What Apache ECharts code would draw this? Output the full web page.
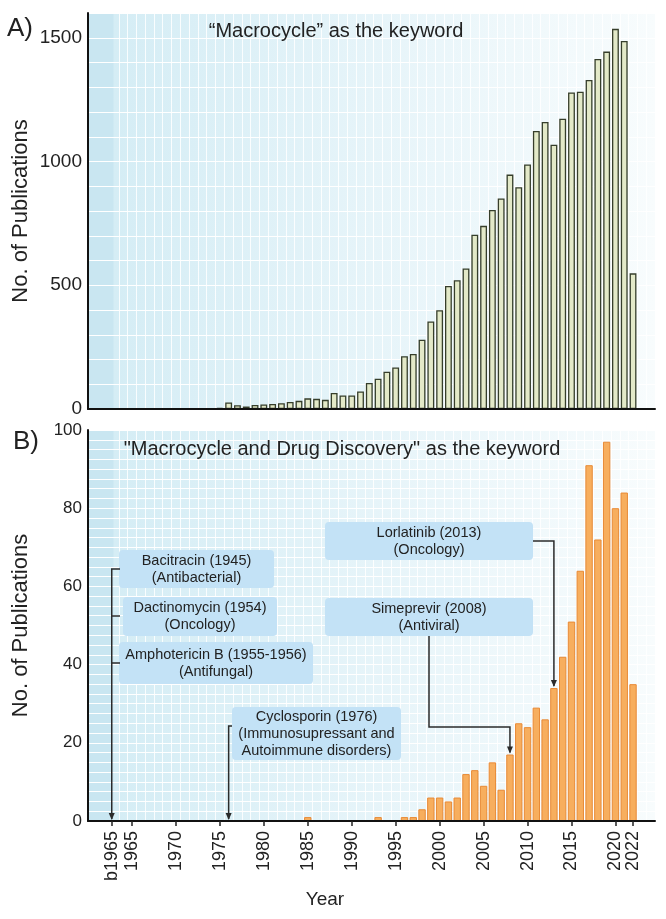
<!DOCTYPE html>
<html>
<head>
<meta charset="utf-8">
<script src="https://cdn.jsdelivr.net/npm/echarts@6/dist/echarts.min.js"></script>
<style>
html,body{margin:0;padding:0;background:#ffffff;}
#main{width:666px;height:919px;}
</style>
</head>
<body>
<div id="main"></div>
<script>
// ---------------- data ----------------
const categories = [
  'b1965',
  '1965','1966','1967','1968','1969','1970','1971','1972','1973','1974',
  '1975','1976','1977','1978','1979','1980','1981','1982','1983','1984',
  '1985','1986','1987','1988','1989','1990','1991','1992','1993','1994',
  '1995','1996','1997','1998','1999','2000','2001','2002','2003','2004',
  '2005','2006','2007','2008','2009','2010','2011','2012','2013','2014',
  '2015','2016','2017','2018','2019','2020','2021','2022'
];
// "Macrocycle" as the keyword
const publicationsMacrocycle = [
  3,
  3, 0, 0, 0, 3, 0, 0, 2, 3, 0,
  5, 26, 15, 10, 16, 18, 20, 23, 28, 33,
  43, 41, 37, 65, 55, 55, 71, 105, 122, 151,
  168, 213, 222, 280, 354, 399, 497, 520, 568, 704,
  740, 804, 851, 947, 896, 988, 1123, 1160, 1068, 1173,
  1279, 1282, 1329, 1414, 1444, 1536, 1487, 548
];
// "Macrocycle and Drug Discovery" as the keyword
const publicationsDrugDiscovery = [
  0,
  0, 0, 0, 0, 0, 0, 0, 0, 0, 0,
  0, 0, 0, 0, 0, 0, 0, 0, 0, 0,
  1, 0, 0, 0, 0, 0, 0, 0, 1, 0,
  0, 1, 1, 3, 6, 6, 5, 6, 12, 13,
  9, 15, 8, 17, 25, 24, 29, 26, 34, 42,
  51, 64, 91, 72, 97, 80, 84, 35
];
const xTickLabels = ['b1965','1965','1970','1975','1980','1985','1990','1995','2000','2005','2010','2015','2020','2022'];
const yTicksA = [0, 500, 1000, 1500];
const yTicksB = [0, 20, 40, 60, 80, 100];

const annotations = [
  { lines: ['Bacitracin (1945)', '(Antibacterial)'], target: 'b1965' },
  { lines: ['Dactinomycin (1954)', '(Oncology)'], target: 'b1965' },
  { lines: ['Amphotericin B (1955-1956)', '(Antifungal)'], target: 'b1965' },
  { lines: ['Cyclosporin (1976)', '(Immunosupressant and', 'Autoimmune disorders)'], target: '1976' },
  { lines: ['Lorlatinib (2013)', '(Oncology)'], target: '2013' },
  { lines: ['Simeprevir (2008)', '(Antiviral)'], target: '2008' }
];

// ---------------- layout / style ----------------
const FONT = "'Liberation Sans', Arial, Helvetica, sans-serif";
const B1965_X = 1962.7;          // where the "before 1965" group sits on the year axis
const X_MIN = 1960, X_MAX = 2024.5;
const toX = c => (c === 'b1965' ? B1965_X : Number(c));

const gridLineYears = [];
for (let y = 1963.5; y < X_MAX; y += 1) gridLineYears.push(y);

const bgGrad = () => ({
  type: 'linear', x: 0, y: 0, x2: 1, y2: 0,
  colorStops: [
    { offset: 0, color: '#c9e6f1' },
    { offset: 0.044, color: '#c9e6f1' },
    { offset: 0.046, color: '#d5edf5' },
    { offset: 0.5, color: '#e6f4f9' },
    { offset: 1, color: '#f8fcfd' }
  ]
});

function buildData(values) {
  return categories.map((c, i) => {
    const item = { value: [toX(c), values[i]] };
    if (values[i] === 0) item.itemStyle = { borderWidth: 0, opacity: 0 };
    return item;
  });
}

const tickLabelByPos = {};
xTickLabels.forEach(l => { tickLabelByPos[toX(l).toFixed(2)] = l; });
const xTickPositions = xTickLabels.map(toX);
// the last label sits very close to its neighbour, so it gets its own (line-less) axis
const xTickMain = xTickPositions.slice(0, -1);
const xTickLast = xTickPositions.slice(-1);

const xLabelStyle = { show: true, rotate: 90, margin: 10, fontSize: 18, color: '#222', fontFamily: FONT,
  hideOverlap: false, showMinLabel: true, showMaxLabel: true,
  formatter: v => tickLabelByPos[Number(v).toFixed(2)] || '' };
const xTickStyle = { show: true, length: 5, inside: false, lineStyle: { color: '#222', width: 1.5 } };

function mainXAxis(gridIndex, ticks, showLine) {
  return {
    type: 'value', gridIndex, min: X_MIN, max: X_MAX, position: 'bottom', z: 5,
    axisLine: { show: showLine, onZero: false, lineStyle: { color: '#111', width: 2 } },
    axisTick: ticks ? Object.assign({ customValues: ticks }, xTickStyle) : { show: false },
    axisLabel: ticks ? Object.assign({ customValues: ticks }, xLabelStyle) : { show: false },
    splitLine: { show: false }
  };
}
function lineXAxis(gridIndex) {
  return {
    type: 'value', gridIndex, min: X_MIN, max: X_MAX, position: 'top',
    axisLine: { show: false },
    axisTick: { show: false, customValues: gridLineYears },
    axisLabel: { show: false },
    splitLine: { show: true, lineStyle: { color: 'rgba(255,255,255,0.85)', width: 1 } }
  };
}
function yAxis(gridIndex, max, interval, labels, fontSize) {
  return {
    type: 'value', gridIndex, min: 0, max, interval,
    name: 'No. of Publications', nameLocation: 'middle', nameGap: 56, nameMoveOverlap: false,
    nameTextStyle: { fontSize: 22, color: '#222', fontFamily: FONT },
    axisLine: { show: true, lineStyle: { color: '#111', width: 2 } },
    axisTick: { show: false },
    axisLabel: { customValues: labels, fontSize, color: '#222', fontFamily: FONT, margin: 6,
                 formatter: v => String(Math.round(v)) },
    splitLine: { show: true, lineStyle: { color: '#ffffff', width: 1.2 } }
  };
}

const chart = echarts.init(document.getElementById('main'), null, { renderer: 'canvas' });

chart.setOption({
  animation: false,
  backgroundColor: '#ffffff',
  grid: [
    { left: 88, right: 11, top: 13, height: 396, show: true, borderWidth: 0, backgroundColor: bgGrad(), containLabel: false, outerBoundsMode: 'none' },
    { left: 88, right: 11, top: 430, height: 391, show: true, borderWidth: 0, backgroundColor: bgGrad(), containLabel: false, outerBoundsMode: 'none' }
  ],
  xAxis: [
    mainXAxis(0, null, true), lineXAxis(0),
    mainXAxis(1, xTickMain, true), lineXAxis(1),
    mainXAxis(1, xTickLast, false)
  ],
  yAxis: [ yAxis(0, 1600, 100, yTicksA, 19), yAxis(1, 100, 2.5, yTicksB, 17) ],
  series: [
    {
      type: 'bar', name: 'Macrocycle', xAxisIndex: 0, yAxisIndex: 0,
      barWidth: '78%',
      itemStyle: { color: '#e3e9c8', borderColor: '#363e2b', borderWidth: 1.3 },
      data: buildData(publicationsMacrocycle)
    },
    {
      type: 'bar', name: 'Macrocycle and Drug Discovery', xAxisIndex: 2, yAxisIndex: 1,
      barWidth: '84%',
      itemStyle: { color: '#f7ae5e', borderColor: '#e88a36', borderWidth: 1 },
      data: buildData(publicationsDrugDiscovery)
    }
  ]
});

// ---------------- annotations (positioned from the chart's own scales) ----------------
const px = (cat, val) => chart.convertToPixel({ seriesIndex: 1 }, [toX(cat), val]);
const valB = cat => publicationsDrugDiscovery[categories.indexOf(cat)];

const BOX = [
  { x: 119, y: 550, w: 155, h: 38 },
  { x: 123, y: 597, w: 154, h: 39 },
  { x: 119, y: 642, w: 194, h: 42 },
  { x: 232, y: 707, w: 169, h: 53 },
  { x: 325, y: 522, w: 208, h: 38 },
  { x: 325, y: 598, w: 208, h: 38 }
];
const LINE = { stroke: '#2b2b2b', lineWidth: 1.5 };
const g = [];

function arrowHead(tip) {
  return { type: 'polygon', z: 20, shape: { points: [[tip[0] - 3, tip[1] - 7], [tip[0] + 3, tip[1] - 7], [tip[0], tip[1]]] }, style: { fill: '#2b2b2b' } };
}

annotations.forEach((a, i) => {
  const b = BOX[i];
  g.push({ type: 'rect', z: 10, shape: { x: b.x, y: b.y, width: b.w, height: b.h, r: 4 }, style: { fill: '#c3e2f6' } });
  g.push({ type: 'text', z: 11, x: b.x + b.w / 2, y: b.y + b.h / 2,
    style: { text: a.lines.join('\n'), fill: '#222', font: `14.5px ${FONT}`, lineHeight: 17, align: 'center', verticalAlign: 'middle' } });
});

// before-1965 bracket
const t0 = px('b1965', 0);
const stubYs = [569, 616, 663];
g.push({ type: 'polyline', z: 20, shape: { points: [[t0[0], stubYs[0]], [t0[0], t0[1] - 2]] }, style: LINE });
stubYs.forEach(y => g.push({ type: 'polyline', z: 20, shape: { points: [[t0[0] - 0.75, y], [120, y]] }, style: LINE }));
g.push(arrowHead([t0[0], t0[1] - 1]));

// Cyclosporin (1976)
const t1 = px('1976', 0);
g.push({ type: 'polyline', z: 20, shape: { points: [[BOX[3].x, 726], [t1[0], 726], [t1[0], t1[1] - 2]] }, style: LINE });
g.push(arrowHead([t1[0], t1[1] - 1]));

// Lorlatinib (2013)
const t2 = px('2013', valB('2013'));
const ly = BOX[4].y + BOX[4].h / 2;
g.push({ type: 'polyline', z: 20, shape: { points: [[BOX[4].x + BOX[4].w, ly], [t2[0], ly], [t2[0], t2[1] - 2]] }, style: LINE });
g.push(arrowHead([t2[0], t2[1] - 1]));

// Simeprevir (2008)
const t3 = px('2008', valB('2008'));
g.push({ type: 'polyline', z: 20, shape: { points: [[429, BOX[5].y + BOX[5].h], [429, 727], [t3[0], 727], [t3[0], t3[1] - 2]] }, style: LINE });
g.push(arrowHead([t3[0], t3[1] - 1]));

// panel letters, titles, x-axis name
g.push({ type: 'text', x: 7, y: 29, style: { text: 'A)', fill: '#222', font: `26px ${FONT}`, verticalAlign: 'middle' } });
g.push({ type: 'text', x: 13, y: 442, style: { text: 'B)', fill: '#222', font: `26px ${FONT}`, verticalAlign: 'middle' } });
g.push({ type: 'text', z: 12, x: 336, y: 31, style: { text: '\u201CMacrocycle\u201D as the keyword', fill: '#222', font: `20px ${FONT}`, align: 'center', verticalAlign: 'middle' } });
g.push({ type: 'text', z: 12, x: 342, y: 449, style: { text: '"Macrocycle and Drug Discovery" as the keyword', fill: '#222', font: `20px ${FONT}`, align: 'center', verticalAlign: 'middle' } });
g.push({ type: 'text', x: 325, y: 900, style: { text: 'Year', fill: '#222', font: `19px ${FONT}`, align: 'center', verticalAlign: 'middle' } });

chart.setOption({ graphic: g });
</script>
</body>
</html>
